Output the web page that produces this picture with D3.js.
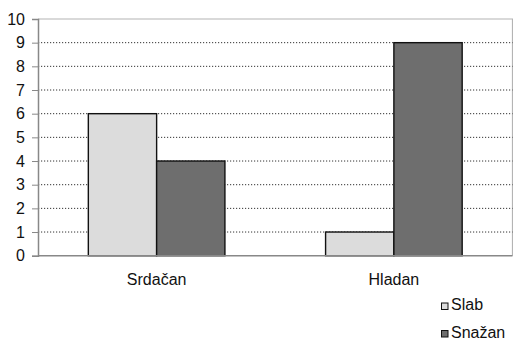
<!DOCTYPE html>
<html>
<head>
<meta charset="utf-8">
<script src="https://cdn.jsdelivr.net/npm/d3@7"></script>
<style>
  html, body { margin: 0; padding: 0; background: #fff; }
  svg { display: block; font-family: "Liberation Sans", Arial, sans-serif; }
</style>
</head>
<body>
<svg id="chart" width="513" height="342"></svg>
<script>
// Categories, series and axis ticks
const categories = ["Srdačan", "Hladan"];
const seriesNames = ["Slab", "Snažan"];
const slabValues = [6, 1];
const snazanValues = [4, 9];
const yTicks = [0, 1, 2, 3, 4, 5, 6, 7, 8, 9, 10];

const seriesColors = ["#dcdcdc", "#6e6e6e"];

const svg = d3.select("#chart");
const plot = { left: 38, right: 512.5, top: 19, bottom: 255.7 };

const x0 = d3.scaleBand()
  .domain(categories)
  .range([plot.left, plot.right])
  .paddingInner(0)
  .paddingOuter(0);

const x1 = d3.scaleBand()
  .domain(seriesNames)
  .range([0, x0.bandwidth()])
  .paddingInner(0)
  .paddingOuter(0.737);

const y = d3.scaleLinear().domain([0, 10]).range([plot.bottom, plot.top]);

// Plot frame (top and right)
svg.append("path")
  .attr("d", `M${plot.left},${plot.top}H${plot.right}V${plot.bottom}`)
  .attr("fill", "none")
  .attr("stroke", "#b4b4b4")
  .attr("stroke-width", 1.2);

// Dotted gridlines
svg.append("g")
  .selectAll("line")
  .data(yTicks.filter(d => d > 0 && d < 10))
  .join("line")
  .attr("x1", plot.left)
  .attr("x2", plot.right)
  .attr("y1", d => y(d))
  .attr("y2", d => y(d))
  .attr("stroke", "#333")
  .attr("stroke-width", 1)
  .attr("stroke-dasharray", "1.2,1.8");

// Bars
const rows = categories.map((c, i) => ({
  category: c,
  values: [slabValues[i], snazanValues[i]]
}));

const groups = svg.append("g")
  .selectAll("g")
  .data(rows)
  .join("g")
  .attr("transform", d => `translate(${x0(d.category)},0)`);

groups.selectAll("rect")
  .data(d => d.values.map((v, j) => ({ series: seriesNames[j], value: v, j })))
  .join("rect")
  .attr("x", d => x1(d.series))
  .attr("width", x1.bandwidth())
  .attr("y", d => y(d.value))
  .attr("height", d => y(0) - y(d.value))
  .attr("fill", d => seriesColors[d.j])
  .attr("stroke", "#111")
  .attr("stroke-width", 1.4);

// Y axis
const yAxis = d3.axisLeft(y)
  .tickValues(yTicks)
  .tickSize(6)
  .tickPadding(7)
  .tickFormat(d3.format("d"));

const yg = svg.append("g")
  .attr("transform", `translate(${plot.left},0)`)
  .call(yAxis);
yg.select(".domain").attr("stroke", "#888").attr("stroke-width", 1.5);
yg.selectAll(".tick line").attr("stroke", "#888");
yg.selectAll(".tick text")
  .attr("fill", "#111")
  .style("font-size", "16px")
  .style("font-family", "'Liberation Sans', Arial, sans-serif");

// X axis baseline
svg.append("line")
  .attr("x1", plot.left)
  .attr("x2", plot.right)
  .attr("y1", y(0))
  .attr("y2", y(0))
  .attr("stroke", "#888")
  .attr("stroke-width", 1.5);

// Category labels
svg.append("g")
  .selectAll("text")
  .data(categories)
  .join("text")
  .attr("x", d => x0(d) + x0.bandwidth() / 2)
  .attr("y", 285)
  .attr("text-anchor", "middle")
  .attr("fill", "#111")
  .style("font-size", "16px")
  .text(d => d);

// Legend
const legend = svg.append("g")
  .selectAll("g")
  .data(seriesNames)
  .join("g")
  .attr("transform", (d, i) => `translate(441.5,${303 + i * 27.5})`);

legend.append("rect")
  .attr("width", 6.5)
  .attr("height", 6.5)
  .attr("fill", (d, i) => seriesColors[i])
  .attr("stroke", "#111")
  .attr("stroke-width", 1);

legend.append("text")
  .attr("x", 9.5)
  .attr("y", 7)
  .attr("fill", "#111")
  .style("font-size", "16px")
  .text(d => d);
</script>
</body>
</html>
